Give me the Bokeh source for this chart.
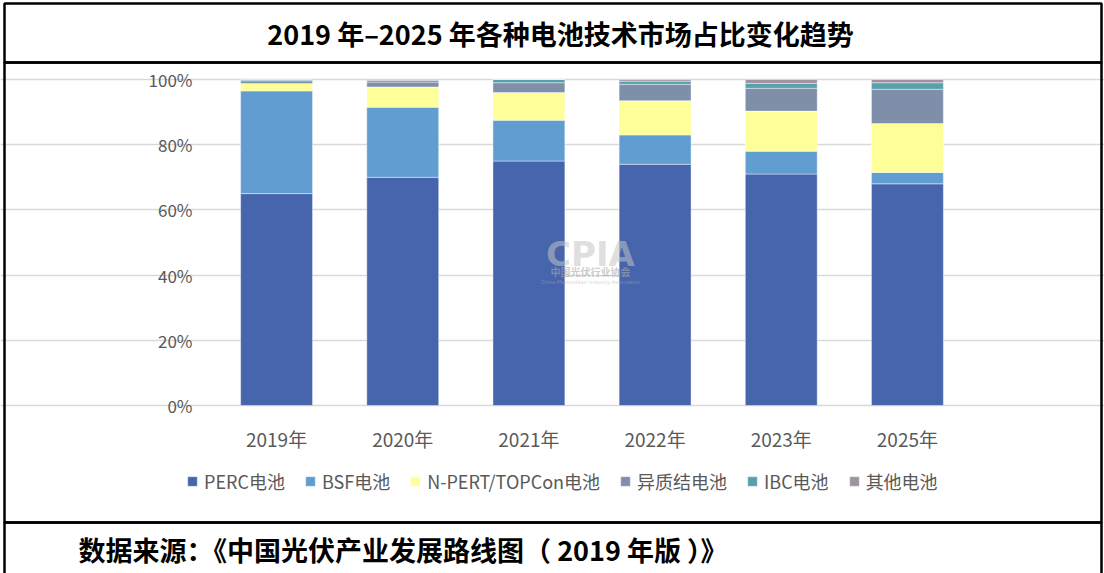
from bokeh.plotting import figure
from bokeh.models import (ColumnDataSource, Legend, LegendItem, Label, BoxAnnotation,
                          PrintfTickFormatter, FixedTicker, Range1d)
from bokeh.embed import file_html
from bokeh.resources import INLINE

# ---- data ----
years = ["2019年", "2020年", "2021年", "2022年", "2023年", "2025年"]
series_names = ["PERC电池", "BSF电池", "N-PERT/TOPCon电池", "异质结电池", "IBC电池", "其他电池"]
perc = [65, 70, 75, 74, 71, 68]
bsf = [31.5, 21.5, 12.5, 9, 7, 3.5]
npert = [2.3, 6.2, 8.5, 10.5, 12.3, 15]
hjt = [0.8, 1.5, 3, 5, 7, 10.5]
ibc = [0.3, 0.5, 1, 1, 1.5, 2]
other = [0.1, 0.3, 0, 0.5, 1.2, 1]
y_ticks = [0, 20, 40, 60, 80, 100]

title_text = "2019 年–2025 年各种电池技术市场占比变化趋势"
source_text = "数据来源：《中国光伏产业发展路线图（ 2019 年版 ）》"

colors = ["#4765ad", "#619dd1", "#ffff99", "#7f8ea9", "#58a0ac", "#9f92a2"]
keys = ["perc", "bsf", "npert", "hjt", "ibc", "other"]

idx = list(range(len(years)))
source = ColumnDataSource(dict(idx=idx, perc=perc, bsf=bsf, npert=npert,
                               hjt=hjt, ibc=ibc, other=other))

# ---- layout geometry (pixels) ----
W, H = 1104, 573
PL, PR, PT, PB = 213, 970, 79, 405          # plot area in canvas pixels
n = len(years)
cat_px = (PR - PL) / n
y_px = (PB - PT) / 100.0
x_range = Range1d(-0.5 - PL / cat_px, n - 0.5 + (W - PR) / cat_px)
y_range = Range1d(-(H - PB) / y_px, 100 + PT / y_px)

CJK = "Noto Sans CJK SC"

p = figure(width=W, height=H, x_range=x_range, y_range=y_range,
           output_backend="svg", toolbar_location=None, min_border=0)
p.outline_line_color = None
p.background_fill_color = "white"
p.border_fill_color = "white"

renderers = p.vbar_stack(keys, x="idx", width=0.57, color=colors, source=source,
                         line_color="white", line_width=0.6, line_alpha=0.7)

# y axis
p.yaxis.fixed_location = -0.5
p.yaxis.ticker = FixedTicker(ticks=y_ticks)
p.yaxis.formatter = PrintfTickFormatter(format="%d%%")
p.yaxis.axis_line_color = None
p.yaxis.major_tick_line_color = None
p.yaxis.minor_tick_line_color = None
p.yaxis.major_label_standoff = 15
p.yaxis.major_label_text_font = CJK
p.yaxis.major_label_text_font_size = "17px"
p.yaxis.major_label_text_color = "#595959"

# x axis
p.xaxis.fixed_location = 0
p.xaxis.ticker = FixedTicker(ticks=idx)
p.xaxis.major_label_overrides = {i: y for i, y in zip(idx, years)}
p.xaxis.axis_line_color = None
p.xaxis.major_tick_line_color = None
p.xaxis.minor_tick_line_color = None
p.xaxis.major_label_standoff = 13
p.xaxis.major_label_text_font = CJK
p.xaxis.major_label_text_font_size = "19px"
p.xaxis.major_label_text_color = "#595959"

p.xgrid.grid_line_color = None
p.ygrid.grid_line_color = "#d9d9d9"
p.ygrid.grid_line_width = 1.5
p.ygrid.bounds = (-0.5, n - 0.5)

# legend
items = [LegendItem(label=nm, renderers=[r]) for nm, r in zip(series_names, renderers)]
legend = Legend(items=items, orientation="horizontal", location=(186, 79),
                glyph_width=12, glyph_height=12, label_standoff=6, spacing=19,
                label_text_font=CJK, label_text_font_size="18px",
                label_text_color="#595959", border_line_color=None,
                background_fill_alpha=0, padding=0, margin=0)
p.add_layout(legend, "center")

# watermark
p.add_layout(Label(x=590, y=253, x_units="canvas", y_units="canvas", text="CPIA",
                   text_font="DejaVu Sans", text_font_style="bold", text_font_size="34px",
                   text_color="#c4c4c4", text_alpha=0.55, text_align="center",
                   text_baseline="alphabetic"))
p.add_layout(Label(x=590, y=271, x_units="canvas", y_units="canvas", text="中国光伏行业协会",
                   text_font=CJK, text_font_size="10px", text_font_style="bold",
                   text_color="#a8a8a8", text_alpha=0.6, text_align="center",
                   text_baseline="middle"))
p.add_layout(Label(x=590, y=281, x_units="canvas", y_units="canvas",
                   text="China Photovoltaic Industry Association",
                   text_font="DejaVu Sans", text_font_size="5px",
                   text_color="#b0b0b0", text_alpha=0.6, text_align="center",
                   text_baseline="middle"))

# table borders
for top, bottom in [(3, 62), (62, 522), (522, 640)]:
    p.add_layout(BoxAnnotation(left=4, right=1101, top=top, bottom=bottom,
                               left_units="canvas", right_units="canvas",
                               top_units="canvas", bottom_units="canvas",
                               fill_alpha=0, line_color="black", line_alpha=1,
                               line_width=2.5))

# title and source
p.add_layout(Label(x=560, y=33, x_units="canvas", y_units="canvas", text=title_text,
                   text_font=CJK, text_font_style="bold", text_font_size="27px",
                   text_color="black", text_align="center", text_baseline="middle"))
p.add_layout(Label(x=78, y=549, x_units="canvas", y_units="canvas", text=source_text,
                   text_font=CJK, text_font_style="bold", text_font_size="27px",
                   text_color="black", text_align="left", text_baseline="middle"))

open("out.html", "w").write(file_html(p, INLINE))
